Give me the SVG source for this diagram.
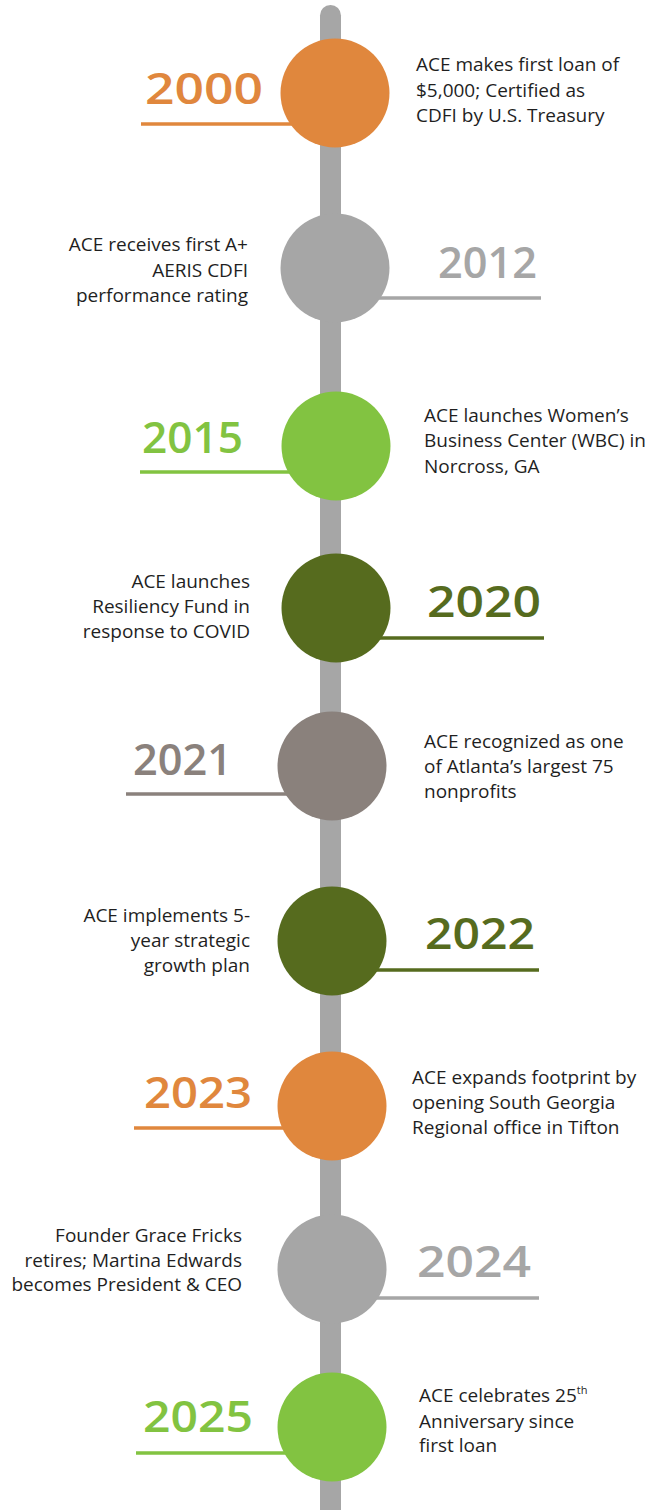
<svg xmlns="http://www.w3.org/2000/svg" width="650" height="1510" viewBox="0 0 650 1510">
<style>
.desc{font-family:"Open Sans","Noto Sans","Liberation Sans",sans-serif;font-size:19px;fill:#1f1f1f}
.r{text-anchor:end}
.yr{font-family:"Open Sans","Noto Sans","Liberation Sans",sans-serif;font-size:44px;font-weight:600}
.ul{stroke-width:3.5;fill:none}
.orange{fill:#E0873D}.sorange{stroke:#E0873D}
.grey{fill:#A6A6A6}.sgrey{stroke:#A6A6A6}
.lgreen{fill:#82C341}.slgreen{stroke:#82C341}
.olive{fill:#566B1E}.solive{stroke:#566B1E}
.taupe{fill:#8A817C}.staupe{stroke:#8A817C}
</style>
<rect width="650" height="1510" fill="#ffffff"/>
<rect id="spine" x="320" y="5" width="21" height="1520" rx="10.5" fill="#A6A6A6"/>
<g id="connectors">
<line class="ul sorange" x1="141" y1="124" x2="330" y2="124"/>
<line class="ul sgrey" x1="335" y1="298" x2="541" y2="298"/>
<line class="ul slgreen" x1="140" y1="472" x2="335" y2="472"/>
<line class="ul solive" x1="335" y1="638" x2="544" y2="638"/>
<line class="ul staupe" x1="126" y1="794" x2="332" y2="794"/>
<line class="ul solive" x1="332" y1="970" x2="539" y2="970"/>
<line class="ul sorange" x1="134" y1="1128" x2="332" y2="1128"/>
<line class="ul sgrey" x1="332" y1="1298" x2="539" y2="1298"/>
<line class="ul slgreen" x1="136" y1="1453" x2="332" y2="1453"/>
</g>
<g id="n2000">
<circle class="orange" cx="335" cy="93" r="54.5"/>
<text class="yr orange" x="145" y="104" textLength="118" lengthAdjust="spacingAndGlyphs">2000</text>
<text class="desc" x="416" y="71">ACE makes first loan of</text>
<text class="desc" x="416" y="97">$5,000; Certified as</text>
<text class="desc" x="416" y="122">CDFI by U.S. Treasury</text>
</g>
<g id="n2012">
<circle class="grey" cx="335" cy="268" r="54.5"/>
<text class="yr grey" x="438" y="278" textLength="99" lengthAdjust="spacingAndGlyphs">2012</text>
<text class="desc r" x="248" y="251">ACE receives first A+</text>
<text class="desc r" x="248" y="277">AERIS CDFI</text>
<text class="desc r" x="248" y="302">performance rating</text>
</g>
<g id="n2015">
<circle class="lgreen" cx="336" cy="446" r="54.5"/>
<text class="yr lgreen" x="142" y="453" textLength="101" lengthAdjust="spacingAndGlyphs">2015</text>
<text class="desc" x="424" y="422">ACE launches Women’s</text>
<text class="desc" x="424" y="447">Business Center (WBC) in</text>
<text class="desc" x="424" y="473">Norcross, GA</text>
</g>
<g id="n2020">
<circle class="olive" cx="336" cy="608" r="54.5"/>
<text class="yr olive" x="427" y="617" textLength="114" lengthAdjust="spacingAndGlyphs">2020</text>
<text class="desc r" x="250" y="588">ACE launches</text>
<text class="desc r" x="250" y="613">Resiliency Fund in</text>
<text class="desc r" x="250" y="638">response to COVID</text>
</g>
<g id="n2021">
<circle class="taupe" cx="332" cy="766" r="54.5"/>
<text class="yr taupe" x="133" y="775" textLength="99" lengthAdjust="spacingAndGlyphs">2021</text>
<text class="desc" x="424" y="748">ACE recognized as one</text>
<text class="desc" x="424" y="773">of Atlanta’s largest 75</text>
<text class="desc" x="424" y="798">nonprofits</text>
</g>
<g id="n2022">
<circle class="olive" cx="332" cy="941" r="54.5"/>
<text class="yr olive" x="425" y="949" textLength="110" lengthAdjust="spacingAndGlyphs">2022</text>
<text class="desc r" x="250" y="922">ACE implements 5-</text>
<text class="desc r" x="250" y="947">year strategic</text>
<text class="desc r" x="250" y="972">growth plan</text>
</g>
<g id="n2023">
<circle class="orange" cx="332" cy="1106" r="54.5"/>
<text class="yr orange" x="144" y="1108" textLength="108" lengthAdjust="spacingAndGlyphs">2023</text>
<text class="desc" x="412" y="1084">ACE expands footprint by</text>
<text class="desc" x="412" y="1109">opening South Georgia</text>
<text class="desc" x="412" y="1134">Regional office in Tifton</text>
</g>
<g id="n2024">
<circle class="grey" cx="332" cy="1269" r="54.5"/>
<text class="yr grey" x="417" y="1277" textLength="114" lengthAdjust="spacingAndGlyphs">2024</text>
<text class="desc r" x="242" y="1242">Founder Grace Fricks</text>
<text class="desc r" x="242" y="1267">retires; Martina Edwards</text>
<text class="desc r" x="242" y="1291">becomes President &amp; CEO</text>
</g>
<g id="n2025">
<circle class="lgreen" cx="332" cy="1427" r="54.5"/>
<text class="yr lgreen" x="143" y="1432" textLength="110" lengthAdjust="spacingAndGlyphs">2025</text>
<text class="desc" x="419" y="1402">ACE celebrates 25<tspan font-size="11" dy="-8">th</tspan></text>
<text class="desc" x="419" y="1428">Anniversary since</text>
<text class="desc" x="419" y="1452">first loan</text>
</g>
</svg>
